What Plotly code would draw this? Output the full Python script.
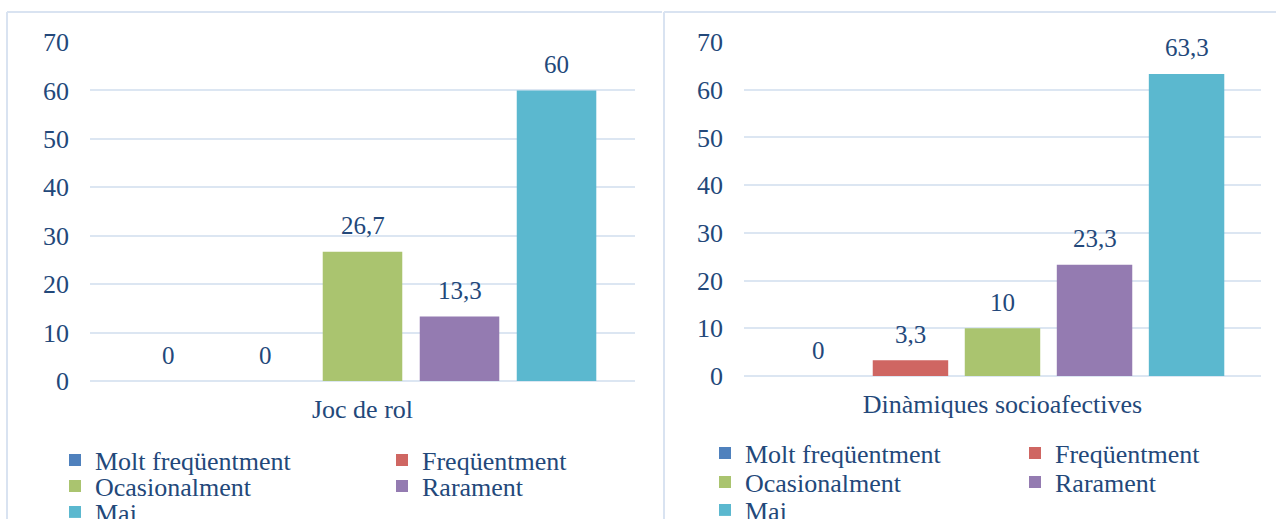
import plotly.graph_objects as go

# ---------------- data ----------------
series = ["Molt freqüentment", "Freqüentment", "Ocasionalment", "Rarament", "Mai"]
cat_left = ["Joc de rol"]
cat_right = ["Dinàmiques socioafectives"]
values_left = [0, 0, 26.7, 13.3, 60]
values_right = [0, 3.3, 10, 23.3, 63.3]
y_ticks = [0, 10, 20, 30, 40, 50, 60, 70]

# ---------------- style ----------------
W, H = 1276, 519
FONT = "Liberation Serif"
TXT = "#23487A"
GRID = "#DCE6F2"
BORDER = "#D9E3F1"
colors = ["#4F81BD", "#CF6662", "#AAC46F", "#947BB1", "#5BB8CF"]
BARGAP, GROUPGAP = 0.11, 0.18

def px_x(p):
    return p / W

def px_y(p):
    return 1 - p / H

# plot-area pixel boxes (left, right, top(70), bottom(0))
L_BOX = (90, 635, 42, 381)
R_BOX = (744, 1261, 42, 376)

fig = go.Figure()

def fmt(v):
    return f"{v:g}".replace(".", ",")

legend_rows = [[0, 1], [2, 3], [4]]

def add_chart(cats, vals, xa, ya, legend_ids):
    for i, (name, v) in enumerate(zip(series, vals)):
        row = [r for r, members in enumerate(legend_rows) if i in members][0]
        fig.add_trace(go.Bar(
            x=cats, y=[v], name=name,
            marker=dict(color=colors[i], line=dict(width=0)),
            xaxis=xa, yaxis=ya, legend=legend_ids[row],
            hoverinfo="skip",
        ))

add_chart(cat_left, values_left, "x", "y", ["legend", "legend2", "legend3"])
add_chart(cat_right, values_right, "x2", "y2", ["legend4", "legend5", "legend6"])

# data labels via annotations, positioned through axes
def add_labels(cats, vals, xref, yref, box):
    slot = (box[1] - box[0]) * (1 - BARGAP) / len(series)
    for i, v in enumerate(vals):
        fig.add_annotation(
            x=cats[0], y=v, xref=xref, yref=yref,
            text=fmt(v), showarrow=False,
            xshift=(i - (len(series) - 1) / 2) * slot, yshift=26,
            font=dict(family=FONT, size=25, color=TXT),
        )

add_labels(cat_left, values_left, "x", "y", L_BOX)
add_labels(cat_right, values_right, "x2", "y2", R_BOX)

def yaxis(box):
    return dict(
        domain=[px_y(box[3]), px_y(box[2])], range=[0, 70],
        tickvals=y_ticks, showgrid=True, gridcolor=GRID, gridwidth=2,
        zeroline=True, zerolinecolor=GRID, zerolinewidth=2,
        showline=False, ticks="", ticklabelstandoff=20,
        tickfont=dict(family=FONT, size=26, color=TXT), fixedrange=True,
    )

def xaxis(box):
    return dict(
        domain=[px_x(box[0]), px_x(box[1])],
        showgrid=False, zeroline=False, showline=False, ticks="",
        ticklabelstandoff=10,
        tickfont=dict(family=FONT, size=26, color=TXT), fixedrange=True,
    )

legend_common = dict(
    orientation="h", yanchor="middle", xanchor="left",
    bgcolor="rgba(0,0,0,0)", borderwidth=0,
    font=dict(family=FONT, size=26, color=TXT),
    entrywidthmode="pixels", itemclick=False, itemdoubleclick=False,
)

def leg(xpx, ypx, ew):
    d = dict(legend_common)
    d.update(x=px_x(xpx), y=px_y(ypx), entrywidth=ew)
    return d

left_leg_x, right_leg_x = 55, 705
left_rows_y = [460, 486, 512]
right_rows_y = [453, 482, 510]

layout_legends = {}
names = ["legend", "legend2", "legend3", "legend4", "legend5", "legend6"]
for k in range(3):
    layout_legends[names[k]] = leg(left_leg_x, left_rows_y[k], 282)
    layout_legends[names[k + 3]] = leg(right_leg_x, right_rows_y[k], 265)

shapes = [
    dict(type="line", xref="paper", yref="paper", x0=px_x(7), x1=px_x(662), y0=px_y(12), y1=px_y(12),
         line=dict(color=BORDER, width=2)),
    dict(type="line", xref="paper", yref="paper", x0=px_x(7), x1=px_x(7), y0=px_y(12), y1=0,
         line=dict(color=BORDER, width=2)),
    dict(type="line", xref="paper", yref="paper", x0=px_x(664), x1=1, y0=px_y(12), y1=px_y(12),
         line=dict(color=BORDER, width=2)),
    dict(type="line", xref="paper", yref="paper", x0=px_x(664), x1=px_x(664), y0=px_y(12), y1=0,
         line=dict(color=BORDER, width=2)),
]

fig.update_layout(
    width=W, height=H,
    margin=dict(l=0, r=0, t=0, b=0, pad=0, autoexpand=False),
    paper_bgcolor="white", plot_bgcolor="white",
    barmode="group", bargap=BARGAP, bargroupgap=GROUPGAP,
    xaxis=dict(xaxis(L_BOX), anchor="y"),
    yaxis=dict(yaxis(L_BOX), anchor="x"),
    xaxis2=dict(xaxis(R_BOX), anchor="y2"),
    yaxis2=dict(yaxis(R_BOX), anchor="x2"),
    shapes=shapes,
    showlegend=True,
    **layout_legends,
)

fig.write_html(
    "out.html",
    config={"displayModeBar": False},
    post_script="document.body.style.margin='0';document.body.style.overflow='hidden';",
)
